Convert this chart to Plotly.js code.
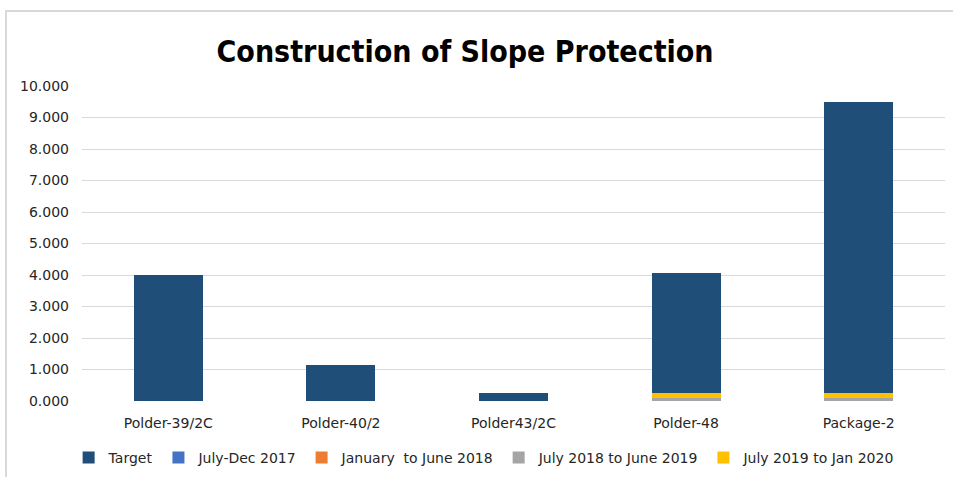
<!DOCTYPE html>
<html>
<head>
<meta charset="utf-8">
<script src="https://cdn.plot.ly/plotly-3.0.1.min.js"></script>
<style>
  html, body { margin: 0; padding: 0; background: #fff; }
  #wrap { position: relative; width: 953px; height: 477px; }
  #chart { width: 953px; height: 477px; }
  #frame { position: absolute; left: 5px; top: 10px; right: 0; bottom: 0;
           border-left: 2px solid #d9d9d9; border-top: 2px solid #d9d9d9; pointer-events: none; }
</style>
</head>
<body>
<div id="wrap"><div id="chart"></div><div id="frame"></div></div>
<script>
const categories = ['Polder-39/2C', 'Polder-40/2', 'Polder43/2C', 'Polder-48', 'Package-2'];
const target = [4.0, 1.13, 0.25, 3.83, 9.26];
const julDec2017 = [0, 0, 0, 0, 0];
const janJun2018 = [0, 0, 0, 0, 0];
const jul2018Jun2019 = [0, 0, 0, 0.11, 0.11];
const jul2019Jan2020 = [0, 0, 0, 0.13, 0.13];
const yTicks = [0, 1, 2, 3, 4, 5, 6, 7, 8, 9, 10];

const TITLE_FONT = 'DejaVu Sans Condensed, DejaVu Sans, sans-serif';
const FONT = 'DejaVu Sans, sans-serif';

function bar(name, y, color, rank) {
  return { type: 'bar', name: name, x: categories, y: y, legendrank: rank,
           marker: { color: color }, hoverinfo: 'name+y' };
}

const data = [
  bar('July-Dec 2017', julDec2017, '#4472C4', 2),
  bar('January  to June 2018', janJun2018, '#ED7D31', 3),
  bar('July 2018 to June 2019', jul2018Jun2019, '#A5A5A5', 4),
  bar('July 2019 to Jan 2020', jul2019Jan2020, '#FFC000', 5),
  bar('Target', target, '#1F4E79', 1)
];

const layout = {
  width: 953, height: 477,
  margin: { l: 82, r: 8, t: 86, b: 76 },
  paper_bgcolor: '#fff', plot_bgcolor: '#fff',
  barmode: 'stack', bargap: 0.6,
  font: { family: FONT, size: 14, color: '#262626' },
  title: { text: 'Construction of Slope Protection', x: 0.488, xref: 'container', xanchor: 'center',
           y: 0.893, yref: 'container', yanchor: 'middle',
           font: { family: TITLE_FONT, size: 30, weight: 'bold', color: '#000' } },
  xaxis: { showgrid: false, showline: false, zeroline: false, ticks: '', ticklabelstandoff: 12,
           tickfont: { family: FONT, size: 14, color: '#262626' } },
  yaxis: { range: [0, 10], tickvals: yTicks, tickformat: '.3f', showgrid: true,
           gridcolor: '#d9d9d9', gridwidth: 1, zeroline: false, showline: false, ticks: '',
           ticklabelstandoff: 12, tickfont: { family: FONT, size: 14, color: '#262626' } },
  showlegend: true,
  legend: { orientation: 'h', x: 0.508, xref: 'container', xanchor: 'center', y: 0.04, yref: 'container',
            yanchor: 'middle', font: { family: FONT, size: 14, color: '#262626' }, itemwidth: 30,
            traceorder: 'normal' }
};

Plotly.newPlot('chart', data, layout, { displayModeBar: false, staticPlot: true });
</script>
</body>
</html>
